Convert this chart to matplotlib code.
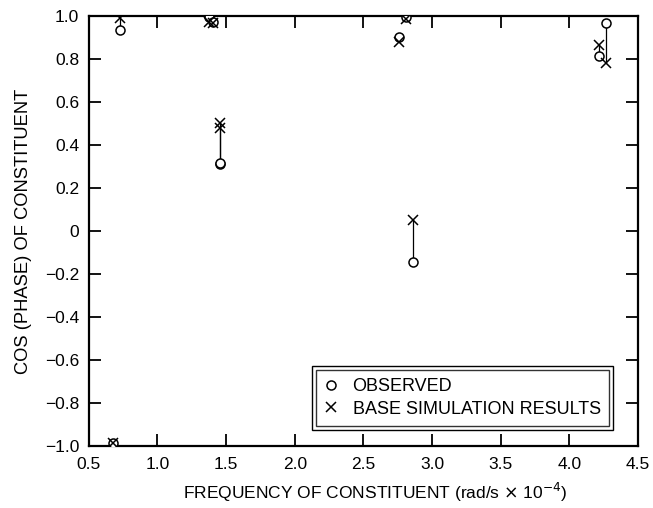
import matplotlib
matplotlib.use("Agg")
import matplotlib.pyplot as plt
from matplotlib.patches import Rectangle

plt.rcParams['font.family'] = ['Liberation Sans', 'DejaVu Sans']

# frequency of constituent (rad/s x 1e-4)
freq = [0.676, 0.729, 1.379, 1.405, 1.454, 1.458, 2.76, 2.81, 2.86, 4.215, 4.27]
observed = [-0.985, 0.935, 0.995, 0.97, 0.31, 0.315, 0.90, 0.995, -0.145, 0.815, 0.965]
simulated = [-0.985, 0.99, 0.97, 0.965, 0.50, 0.48, 0.88, 0.985, 0.05, 0.865, 0.78]

xticks = [0.5, 1.0, 1.5, 2.0, 2.5, 3.0, 3.5, 4.0, 4.5]
xticklabels = ['0.5', '1.0', '1.5', '2.0', '2.5', '3.0', '3.5', '4.0', '4.5']
yticks = [-1.0, -0.8, -0.6, -0.4, -0.2, 0.0, 0.2, 0.4, 0.6, 0.8, 1.0]
yticklabels = ['\u22121.0', '\u22120.8', '\u22120.6', '\u22120.4', '\u22120.2', '0',
               '0.2', '0.4', '0.6', '0.8', '1.0']

fig = plt.figure(figsize=(6.53, 5.08), dpi=100)
ax = fig.add_axes([0.136, 0.122, 0.841, 0.847])

for f, o, s in zip(freq, observed, simulated):
    ax.plot([f, f], [o, s], color='black', lw=0.9, zorder=1)

ax.plot(freq, observed, linestyle='none', marker='o', markersize=6.5,
        markerfacecolor='white', markeredgecolor='black', markeredgewidth=1.1,
        label='OBSERVED', zorder=3)
ax.plot(freq, simulated, linestyle='none', marker='x', markersize=7,
        color='black', markeredgewidth=1.1, label='BASE SIMULATION RESULTS', zorder=3)

ax.set_xlim(0.5, 4.5)
ax.set_ylim(-1.0, 1.0)
ax.set_xticks(xticks)
ax.set_xticklabels(xticklabels)
ax.set_yticks(yticks)
ax.set_yticklabels(yticklabels)
ax.tick_params(direction='in', length=8.5, width=1.3, top=True, right=True,
               labelsize=12.5)
ax.tick_params(axis='x', pad=8)
ax.tick_params(axis='y', pad=7)
for sp in ax.spines.values():
    sp.set_linewidth(1.6)

ax.set_xlabel('FREQUENCY OF CONSTITUENT (rad/s $\\times$ 10$^{-4}$)', fontsize=12.5)
ax.xaxis.set_label_coords(0.521, -0.08)
ax.set_ylabel('COS (PHASE) OF CONSTITUENT', fontsize=13.2, labelpad=9)

leg = ax.legend(loc='lower right', bbox_to_anchor=(0.947, 0.047), fontsize=13,
                frameon=True, fancybox=False, edgecolor='black', handlelength=0.8,
                handletextpad=0.8, borderpad=0.45, labelspacing=0.3, borderaxespad=0)
leg.get_frame().set_linewidth(1.0)
fig.canvas.draw()
bb = leg.get_window_extent().transformed(fig.transFigure.inverted())
padx = 4 / 653
pady = 4 / 508
fig.patches.append(Rectangle((bb.x0 - padx, bb.y0 - pady), bb.width + 2 * padx,
                             bb.height + 2 * pady, transform=fig.transFigure,
                             fill=False, edgecolor='black', lw=1.0, zorder=10))

fig.savefig('out.png', dpi=100)
